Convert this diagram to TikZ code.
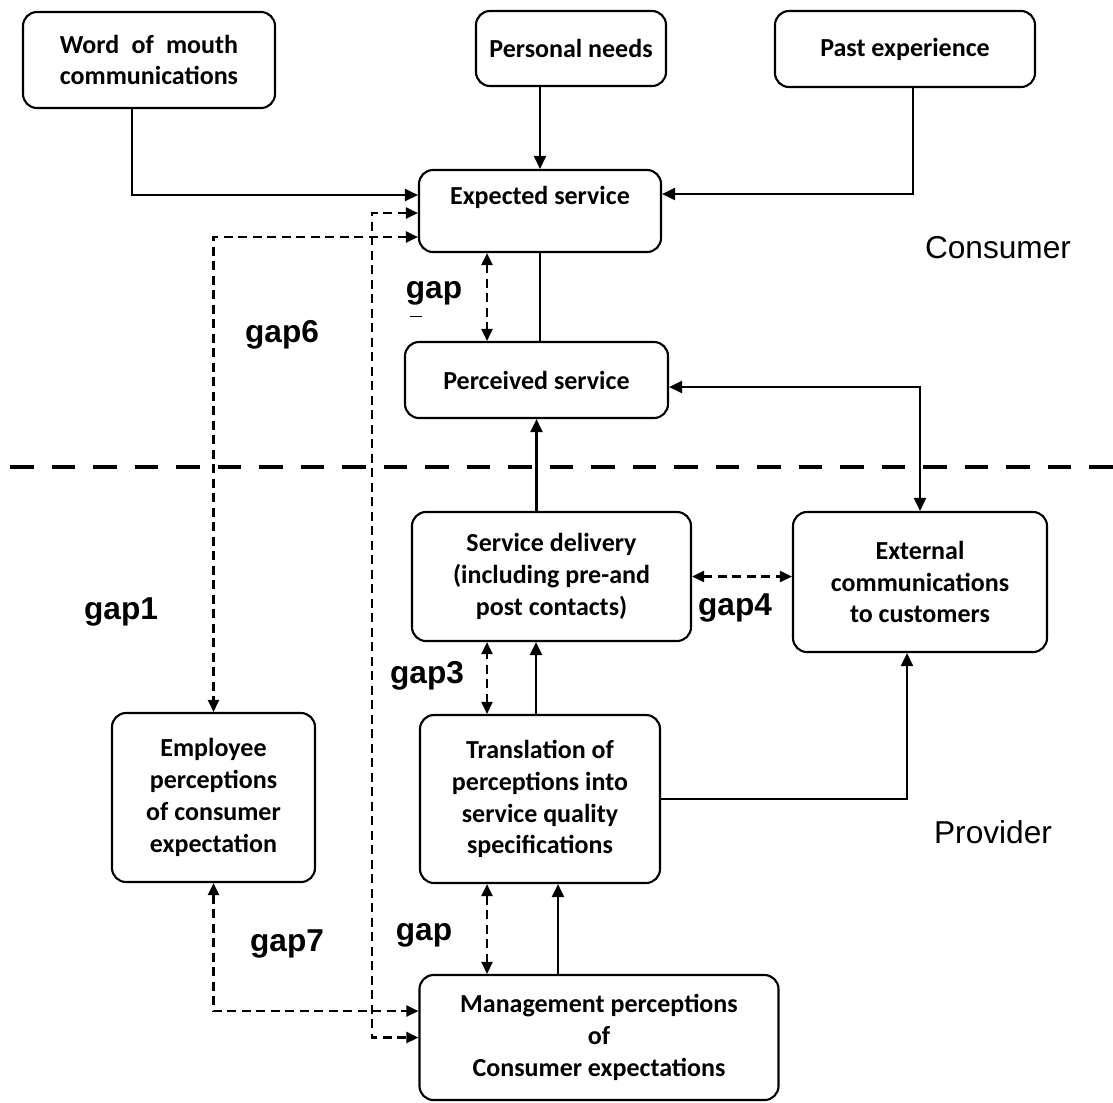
\documentclass[tikz,border=0pt]{standalone}
\usepackage{fontspec}
\usepackage{calc}
\usepackage{tikz}
\usetikzlibrary{arrows.meta}
\newfontfamily\calibrifont{Carlito}
\newfontfamily\arialfont{Liberation Sans}

\begin{document}
\begin{tikzpicture}[node distance=3.3cm]
	\tikzstyle{box} = [rectangle, rounded corners=0.28cm, inner sep=0pt, align=center, 
	draw=black, line width=1.2pt, font=\calibrifont\bfseries\fontsize{14.8}{18.1}\selectfont]
	\tikzstyle{link} = [line width=1.3pt]
	\tikzstyle{arrow} = [line width=1.3pt, -{Triangle[length=0.26cm, width=0.24cm]}]
	\tikzstyle{biarrow} = [line width=1.3pt, {Triangle[length=0.26cm, width=0.24cm]}-{Triangle[length=0.26cm, width=0.24cm]}]
	\tikzstyle{gaparrow} = [line width=1.3pt, dash pattern=on 0.18cm off 0.11cm, 
	{Triangle[length=0.24cm, width=0.22cm]}-{Triangle[length=0.24cm, width=0.22cm]}]
	\tikzstyle{divider} = [line width=2.3pt, dash pattern=on 0.47cm off 0.36cm]
	\tikzstyle{gaplabel} = [anchor=base, inner sep=0pt, font=\arialfont\bfseries\fontsize{18}{21}\selectfont]
	\tikzstyle{side} = [anchor=base, inner sep=0pt, font=\arialfont\fontsize{18}{21}\selectfont]
	\useasboundingbox (0,0) rectangle (22.26,-22.04);
	% consumer side
	\node (expected) [box, minimum width=4.84cm, minimum height=1.64cm] at (10.80,-4.22) {Expected service\\ \mbox{}};
	\node (needs) [box, above of=expected, xshift=0.62cm, yshift=-0.05cm, minimum width=3.8cm, minimum height=1.5cm] {Personal needs};
	\node (word) [box, above of=expected, xshift=-7.82cm, yshift=-0.28cm, minimum width=5.04cm, minimum height=1.92cm] 
	{\makebox[\widthof{communications}][s]{Word of mouth}\\communications};
	\node (past) [box, above of=expected, xshift=7.30cm, yshift=-0.06cm, minimum width=5.2cm, minimum height=1.52cm] {Past experience};
	\node (perceived) [box, below of=expected, xshift=-0.07cm, yshift=-0.08cm, minimum width=5.26cm, minimum height=1.52cm] {Perceived service};
	% provider side
	\node (delivery) [box, below of=perceived, xshift=0.30cm, yshift=-0.63cm, minimum width=5.58cm, minimum height=2.58cm] {Service delivery\\(including pre-and\\post contacts)};
	\node (external) [box, right of=delivery, xshift=4.07cm, yshift=-0.11cm, minimum width=5.08cm, minimum height=2.8cm] {External\\communications\\to customers};
	\node (translation) [box, below of=delivery, xshift=-0.23cm, yshift=-1.15cm, minimum width=4.8cm, minimum height=3.36cm] {Translation of\\perceptions into\\service quality\\specifications};
	\node (employee) [box, left of=translation, xshift=-3.23cm, yshift=0.03cm, minimum width=4.06cm, minimum height=3.38cm] {Employee\\perceptions\\of consumer\\expectation};
	\node (management) [box, below of=translation, xshift=1.18cm, yshift=-1.47cm, minimum width=7.18cm, minimum height=2.5cm] {Management perceptions\\of\\Consumer expectations};
	% labels
	\node (gapTop) [gaplabel] at (8.68,-5.96) {gap};
	\node (gap6) [gaplabel] at (5.64,-6.84) {gap6};
	\node (gap1) [gaplabel] at (2.42,-12.38) {gap1};
	\node (gap3) [gaplabel] at (8.54,-13.66) {gap3};
	\node (gap4) [gaplabel] at (14.70,-12.30) {gap4};
	\node (gap7) [gaplabel] at (5.74,-19.02) {gap7};
	\node (gapLow) [gaplabel] at (8.48,-18.80) {gap};
	\node (consumer) [side] at (19.96,-5.16) {Consumer};
	\node (provider) [side] at (19.86,-16.86) {Provider};
	\draw [line width=0.5pt] (8.2,-6.32) -- (8.44,-6.32);
	\draw [divider] (0.2,-9.34) -- (22.26,-9.34);
	\coordinate (gap6line) at (7.44,-12);
	% solid connectors
	\draw [arrow] ([xshift=-0.34cm]word.south) |- ([yshift=0.32cm]expected.west);
	\draw [arrow] (needs.south -| expected.north) -- (expected.north);
	\draw [arrow] ([xshift=0.16cm]past.south) |- ([yshift=0.34cm]expected.east);
	\draw [link] (expected.south) -- (perceived.north -| expected.south);
	\draw [arrow] (perceived.south |- delivery.north) -- (perceived.south);
	\draw [biarrow] (external.north) |- ([yshift=-0.14cm]perceived.east);
	\draw [arrow] ([xshift=-0.08cm]translation.north) -- ([xshift=-0.08cm]translation.north |- delivery.south);
	\draw [arrow] (translation.east) -| ([xshift=-0.26cm]external.south);
	\draw [arrow] ([xshift=0.36cm]translation.south |- management.north) -- ([xshift=0.36cm]translation.south);
	% gaps
	\draw [gaparrow] ([xshift=-1.06cm]expected.south) -- ([xshift=-1.06cm]expected.south |- perceived.north);
	\draw [gaparrow] (delivery.east) -- (delivery.east -| external.west);
	\draw [gaparrow] ([xshift=-1.06cm]translation.north) -- ([xshift=-1.06cm]translation.north |- delivery.south);
	\draw [gaparrow] ([xshift=-1.06cm]translation.south) -- ([xshift=-1.06cm]translation.south |- management.north);
	\draw [gaparrow] (employee.south) |- ([yshift=0.53cm]management.west);
	\draw [gaparrow] ([yshift=-0.52cm]expected.west) -| (employee.north);
	\draw [gaparrow] ([yshift=-0.04cm]expected.west) -| (gap6line) |- (management.west);
\end{tikzpicture}
\end{document}
